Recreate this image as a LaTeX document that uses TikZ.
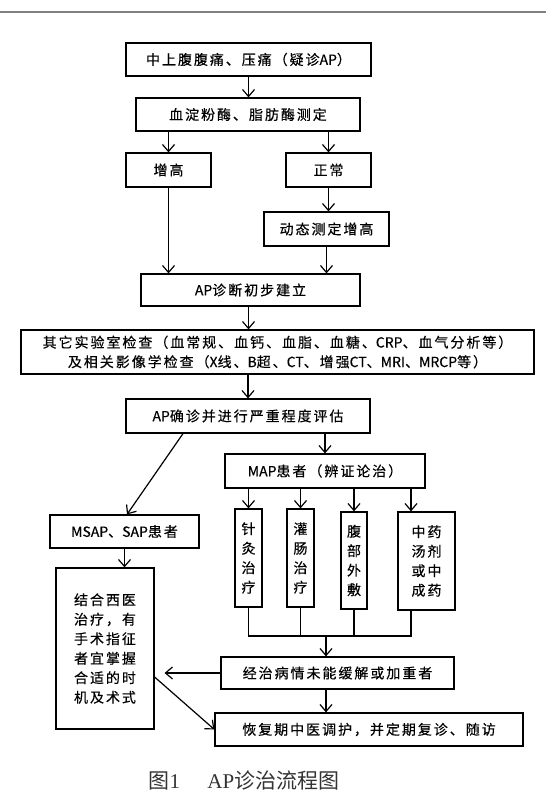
\documentclass[tikz,border=0pt]{standalone}
\usepackage{fontspec}
\newfontfamily\boxfont{Noto Sans CJK SC}[LetterSpace=14,FakeBold=0.4]
\newfontfamily\latfont{Noto Sans CJK SC}[FakeBold=0.4]
\newfontfamily\capfont{Noto Sans CJK SC}
\newfontfamily\capserif{Liberation Serif}
\newcommand\ltn[1]{{\latfont #1}}
\usetikzlibrary{arrows.meta}
\definecolor{capgray}{HTML}{333333}
\definecolor{rulegray}{HTML}{808080}
\begin{document}
\begin{tikzpicture}[x=1pt,y=-1pt,
  box/.style={draw, line width=1.2pt, inner sep=0pt, align=center,
    font=\boxfont\fontsize{14}{19.5}\selectfont},
  arr/.style={line width=1.2pt, -{Straight Barb[length=7pt,width=12pt,line width=1.2pt]}},
  ln/.style={line width=1.2pt}]
\useasboundingbox (0,0) rectangle (558,809);
\draw[rulegray, line width=1.3pt] (0,12) -- (546,12);

\node[box, minimum width=245pt, minimum height=33pt] (b1) at (248.5,59.5) {中上腹腹痛、压痛（疑诊\ltn{AP}）};
\node[box, minimum width=224pt, minimum height=33pt] (b2) at (248,114.5) {血淀粉酶、脂肪酶测定};
\node[box, minimum width=85pt, minimum height=34pt] (bh) at (168.5,170) {增高};
\node[box, minimum width=85pt, minimum height=34pt] (bn) at (328.5,170) {正常};
\node[box, minimum width=125pt, minimum height=34pt] (bd) at (326.5,229) {动态测定增高};
\node[box, minimum width=219pt, minimum height=32pt] (b3) at (250.5,290) {\ltn{AP}诊断初步建立};
\node[box, minimum width=513pt, minimum height=44pt] (b4) at (277.5,352) {其它实验室检查（血常规、血钙、血脂、血糖、\ltn{CRP}、血气分析等）\\及相关影像学检查（\ltn{X}线、\ltn{B}超、\ltn{CT}、增强\ltn{CT}、\ltn{MRI}、\ltn{MRCP}等）};
\node[box, minimum width=244pt, minimum height=34pt] (b5) at (248,416) {\ltn{AP}确诊并进行严重程度评估};
\node[box, minimum width=200pt, minimum height=34pt] (bmap) at (325,471) {\ltn{MAP}患者（辨证论治）};
\node[box, minimum width=27pt, minimum height=98pt] (s1) at (248.5,558) {针\\灸\\治\\疗};
\node[box, minimum width=27pt, minimum height=98pt] (s2) at (300.5,558) {灌\\肠\\治\\疗};
\node[box, minimum width=26pt, minimum height=97pt] (s3) at (354,560.5) {腹\\部\\外\\敷};
\node[box, minimum width=57pt, minimum height=98pt] (s4) at (426.5,561) {中药\\汤剂\\或中\\成药};
\node[box, minimum width=149pt, minimum height=33pt] (bms) at (124.5,531.5) {\ltn{MSAP}、\ltn{SAP}患者};
\node[box, minimum width=98pt, minimum height=161pt] (bjh) at (105,648.5) {结合西医\\治疗，有\\手术指征\\者宜掌握\\合适的时\\机及术式};
\node[box, minimum width=233pt, minimum height=32pt] (bjz) at (337.5,673) {经治病情未能缓解或加重者};
\node[box, minimum width=308pt, minimum height=33pt] (bhf) at (369,729.5) {恢复期中医调护，并定期复诊、随访};

\node[text=capgray, inner sep=0pt] (cap) at (244,780)
  {\capfont\fontsize{21}{21}\selectfont 图{\capserif 1}\hspace{1.3em}{\capserif AP}诊治流程图};

\draw[arr] (b1.south) -- (b1.south |- b2.north);
\draw[arr] (b2.south -| bh) -- (bh.north);
\draw[arr] (b2.south -| bn) -- (bn.north);
\draw[arr] (bn.south) -- (bn.south |- bd.north);
\draw[arr] (bh.south) -- (bh.south |- b3.north);
\draw[arr] (bd.south) -- (bd.south |- b3.north);
\draw[arr] (b3.south -| b1) -- (b1 |- b4.north);
\draw[arr] (b4.south -| b5) -- (b5.north);
\draw[arr] ([xshift=-65pt]b5.south) -- ([xshift=2.5pt]bms.north);
\draw[arr] (b5.south -| bmap) -- (bmap.north);
\draw[arr] (bmap.south -| s1) -- (s1.north);
\draw[arr] (bmap.south -| s2) -- (s2.north);
\draw[arr] (bmap.south -| s3) -- (s3.north);
\draw[arr] ([xshift=-15.5pt]s4.north |- bmap.south) -- ([xshift=-15.5pt]s4.north);

\coordinate (jy) at (0,636);
\coordinate (j) at (326,636);
\draw[ln] (s1.south) -- (s1.south |- jy) -- ([xshift=-15.5pt]s4.south |- jy) -- ([xshift=-15.5pt]s4.south);
\draw[ln] (s2.south) -- (s2.south |- jy);
\draw[ln] (s3.south) -- (s3.south |- jy);
\draw[arr] (j) -- (j |- bjz.north);
\draw[arr] (j |- bjz.south) -- (j |- bhf.north);
\draw[arr, shorten >=10pt] (bjz.west) -- (bjh.east |- bjz.west);
\draw[arr] ([yshift=-28.5pt]bjh.east) -- (bhf.west);
\draw[arr] (bms.south) -- (bms.south |- bjh.north);
\end{tikzpicture}
\end{document}
